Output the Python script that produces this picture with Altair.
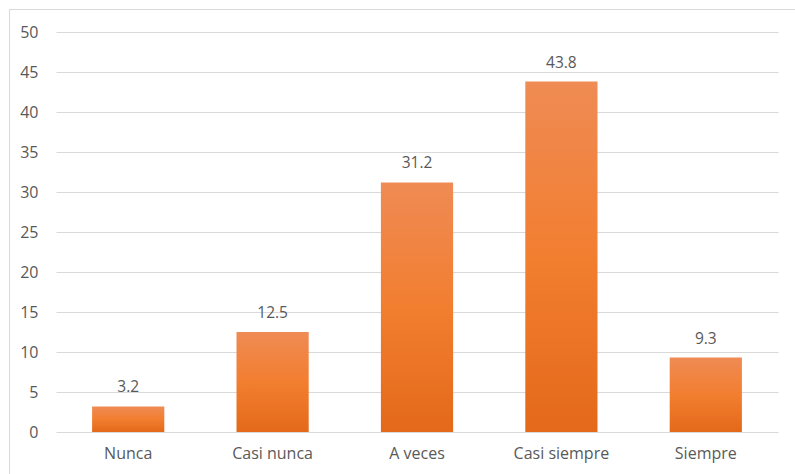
import altair as alt
import pandas as pd

categories = ["Nunca", "Casi nunca", "A veces", "Casi siempre", "Siempre"]
values = [3.2, 12.5, 31.2, 43.8, 9.3]
labels = ["3.2", "12.5", "31.2", "43.8", "9.3"]
y_ticks = [0, 5, 10, 15, 20, 25, 30, 35, 40, 45, 50]

df = pd.DataFrame({"cat": categories, "val": values, "lab": labels})

FONT = "Open Sans"
GRAY = "#595959"

grad = alt.Gradient(
    gradient="linear",
    stops=[
        alt.GradientStop(color="#EF8B54", offset=0),
        alt.GradientStop(color="#F27E30", offset=0.5),
        alt.GradientStop(color="#E4691A", offset=1),
    ],
    x1=0, x2=0, y1=0, y2=1,
)

x_enc = alt.X(
    "cat:N", sort=categories, title=None,
    scale=alt.Scale(paddingInner=0.5, paddingOuter=0.25),
    axis=alt.Axis(labelAngle=0, labelFont=FONT, labelFontSize=16, labelColor=GRAY,
                  domain=False, ticks=False, labelPadding=13, grid=False),
)
y_enc = alt.Y(
    "val:Q", title=None,
    scale=alt.Scale(domain=[0, 50], nice=False),
    axis=alt.Axis(values=y_ticks, labelOverlap=False, tickCount=11,
                  labelFont=FONT, labelFontSize=16, labelColor=GRAY,
                  domain=False, ticks=False, labelPadding=18,
                  grid=True, gridColor="#D9D9D9", gridWidth=1),
)

bars = alt.Chart(df).mark_bar(color=grad).encode(x=x_enc, y=y_enc)

text = alt.Chart(df).mark_text(
    font=FONT, fontSize=15.5, color=GRAY, baseline="alphabetic", dy=-14
).encode(x=x_enc, y=y_enc, text="lab:N")

border_top = alt.Chart(df).mark_rule(color="#D9D9D9", strokeWidth=1, clip=False).encode(
    x=alt.value(-46.5), x2=alt.value(760), y=alt.value(-22.5)
)
border_left = alt.Chart(df).mark_rule(color="#D9D9D9", strokeWidth=1, clip=False).encode(
    x=alt.value(-46.5), y=alt.value(-22.5), y2=alt.value(460)
)

chart = alt.layer(bars, text, border_top, border_left).properties(
    width=722, height=400,
    autosize=alt.AutoSizeParams(type="none"),
    padding={"left": 56, "top": 32, "right": 17, "bottom": 42},
    background="white",
).configure_view(stroke=None)

chart.save("out.html", embed_options={"renderer": "svg", "actions": False})
